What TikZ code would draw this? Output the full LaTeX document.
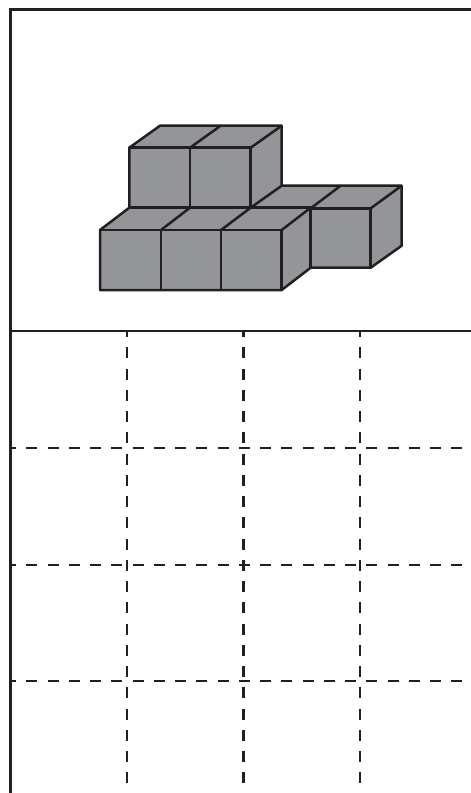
\documentclass[tikz,border=0pt]{standalone}
\definecolor{ink}{HTML}{231F20}
\definecolor{cubegray}{HTML}{939598}
\tikzset{
  frameline/.style={draw=ink,line width=2.3pt},
  cubeline/.style={draw=ink,line width=2.5pt,line join=round,line cap=round},
  cubefill/.style={fill=cubegray,draw=none},
  gridv/.style={draw=ink,line width=2.3pt,dash pattern=on 11pt off 10.25pt},
  gridh/.style={draw=ink,line width=2.3pt,dash pattern=on 11pt off 10.25pt}
}
\begin{document}
\begin{tikzpicture}[x=1pt,y=-1pt]
\useasboundingbox (0,0) rectangle (471,793);
\fill[white] (0,0) rectangle (471,793);
% frame
\draw[frameline] (10.5,793) -- (10.5,9.5) -- (471,9.5);
\draw[frameline] (10.5,331) -- (471,331);
% dashed grid
\foreach \x in {127,243.5,360.3}
  \draw[gridv,dash phase=6pt] (\x,332) -- (\x,783);
\foreach \y in {448,565,681}
  \draw[gridh,dash phase=6pt] (11,\y) -- (462,\y);
% cubes: silhouette
\fill[cubefill] (100,230) -- (129.3,207.7) -- (129.3,147.7) -- (160,125.7) -- (281.7,125.7)
  -- (281.7,185.7) -- (401.7,185.7) -- (401.7,245.7) -- (370.7,267.7) -- (310.7,267.7)
  -- (281.7,290) -- (100,290) -- cycle;
% outline
\draw[cubeline] (100,230) -- (129.3,207.7) -- (129.3,147.7) -- (160,125.7) -- (281.7,125.7)
  -- (281.7,185.7) -- (401.7,185.7) -- (401.7,245.7) -- (370.7,267.7) -- (310.7,267.7)
  -- (281.7,290) -- (100,290) -- cycle;
% upper cubes
\draw[cubeline] (129.3,147.7) -- (250.7,147.7) -- (250.7,207.7);
\draw[cubeline] (190,147.7) -- (190,207.7);
\draw[cubeline] (220.7,125.7) -- (190,147.7);
\draw[cubeline] (281.7,125.7) -- (250.7,147.7);
\draw[cubeline] (129.3,207.7) -- (310.7,207.7);
% lower cubes
\draw[cubeline] (100,230) -- (281.7,230) -- (281.7,290);
\draw[cubeline] (161,230) -- (161,290);
\draw[cubeline] (221,230) -- (221,290);
\draw[cubeline] (161,230) -- (190,207.7);
\draw[cubeline] (221,230) -- (250.7,207.7) -- (281.7,185.7);
\draw[cubeline] (281.7,230) -- (310.7,207.7);
% right cube
\draw[cubeline] (310.7,207.7) -- (310.7,267.7);
\draw[cubeline] (310.7,208.3) -- (370.7,208.3) -- (370.7,267.7);
\draw[cubeline] (310.7,208.3) -- (340.7,185.7);
\draw[cubeline] (370.7,208.3) -- (401.7,185.7);
\end{tikzpicture}
\end{document}
